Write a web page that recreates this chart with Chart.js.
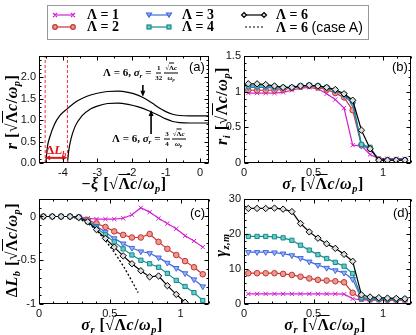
<!DOCTYPE html>
<html>
<head>
<meta charset="utf-8">
<script src="https://cdn.jsdelivr.net/npm/chart.js@4.4.0/dist/chart.umd.min.js"></script>
<style>
html, body { margin: 0; padding: 0; background: #fff; }
#wrap { position: relative; width: 416px; height: 335px; overflow: hidden; background: #fff; }
canvas { position: absolute; }
.m { position: absolute; font-family: "Liberation Serif", "DejaVu Serif", serif; font-weight: bold; white-space: nowrap; color: #000; line-height: 1; }
.m sub { font-size: 65%; vertical-align: -0.3em; line-height: 0; }
.ov { text-decoration: overline; }
.t { font-size: 16px; letter-spacing: 0.5px; transform: translate(-50%, -50%); }
.ty { font-size: 16px; letter-spacing: 0.5px; transform: translate(-50%, -50%) rotate(-90deg); }
.lab { position: absolute; font-family: "Liberation Sans", Arial, sans-serif; font-size: 13px; color: #000; line-height: 1; }
.lg { font-size: 14px; line-height: 16px; }
.lg span.s { font-family: "Liberation Sans", Arial, sans-serif; font-weight: normal; }
.fr { display: inline-flex; flex-direction: column; align-items: center; vertical-align: middle; font-size: 7px; line-height: 1; margin: 0 1px; }
.fr .nu { border-bottom: 0.8px solid #000; padding: 0 1px 1px; }
.fr .de { padding-top: 1px; }
.an { font-size: 11px; transform: translateY(-50%); }
</style>
</head>
<body>
<div id="wrap">
  <canvas id="chartA" width="216" height="150" style="left:0;top:44px"></canvas>
  <canvas id="chartB" width="212" height="150" style="left:204px;top:44px"></canvas>
  <canvas id="chartC" width="216" height="147" style="left:0;top:188px"></canvas>
  <canvas id="chartD" width="212" height="147" style="left:204px;top:188px"></canvas>

  <!-- legend -->
  <div style="position:absolute;left:47px;top:5px;width:320px;height:33px;border:1px solid #999;"></div>
  <svg width="416" height="45" style="position:absolute;left:0;top:0">
    <g stroke="#d21ed2" stroke-width="1.2" fill="none">
      <line x1="54" y1="15" x2="74" y2="15"/>
      <path d="M53 13 l4 4 M57 13 l-4 4 M71 13 l4 4 M75 13 l-4 4"/>
    </g>
    <g stroke="#c83232" stroke-width="1.2" fill="#e89a90">
      <line x1="54" y1="27" x2="74" y2="27"/>
      <circle cx="55" cy="27" r="2.3"/><circle cx="73" cy="27" r="2.3"/>
    </g>
    <g stroke="#4169e1" stroke-width="1.2" fill="#9db2f0">
      <line x1="148" y1="15" x2="170" y2="15"/>
      <path d="M146.5 13 h5 l-2.5 4 z M166.5 13 h5 l-2.5 4 z"/>
    </g>
    <g stroke="#108c8c" stroke-width="1.2" fill="#70c8c8">
      <line x1="148" y1="27" x2="170" y2="27"/>
      <rect x="147" y="25" width="4" height="4"/><rect x="167" y="25" width="4" height="4"/>
    </g>
    <g stroke="#000" stroke-width="1.2" fill="#ddd">
      <line x1="243" y1="15" x2="265" y2="15"/>
      <path d="M244 12.5 l2.5 2.5 l-2.5 2.5 l-2.5 -2.5 z M264 12.5 l2.5 2.5 l-2.5 2.5 l-2.5 -2.5 z"/>
    </g>
    <line x1="245" y1="27" x2="264" y2="27" stroke="#000" stroke-width="1.2" stroke-dasharray="2,2"/>
  </svg>
  <div class="m lg" style="left:87px;top:7px">Λ = 1</div>
  <div class="m lg" style="left:87px;top:19px">Λ = 2</div>
  <div class="m lg" style="left:182px;top:7px">Λ = 3</div>
  <div class="m lg" style="left:182px;top:19px">Λ = 4</div>
  <div class="m lg" style="left:276px;top:7px">Λ = 6</div>
  <div class="m lg" style="left:276px;top:19px">Λ = 6 <span class="s">(case A)</span></div>

  <!-- axis titles -->
  <div class="m t" style="left:124px;top:184px">−<i>ξ</i> [√<span class="ov">Λ</span><i>c</i>/<i>ω<sub>p</sub></i>]</div>
  <div class="m ty" style="left:12px;top:112px"><i>r</i> [√<span class="ov">Λ</span><i>c</i>/<i>ω<sub>p</sub></i>]</div>
  <div class="m t" style="left:323px;top:184px"><i>σ<sub>r</sub></i> [√<span class="ov">Λ</span><i>c</i>/<i>ω<sub>p</sub></i>]</div>
  <div class="m ty" style="left:222px;top:106px"><i>r<sub>i</sub></i> [√<span class="ov">Λ</span><i>c</i>/<i>ω<sub>p</sub></i>]</div>
  <div class="m t" style="left:122px;top:325px"><i>σ<sub>r</sub></i> [√<span class="ov">Λ</span><i>c</i>/<i>ω<sub>p</sub></i>]</div>
  <div class="m ty" style="left:12px;top:250px">Δ<i>L<sub>b</sub></i> [√<span class="ov">Λ</span><i>c</i>/<i>ω<sub>p</sub></i>]</div>
  <div class="m t" style="left:325px;top:325px"><i>σ<sub>r</sub></i> [√<span class="ov">Λ</span><i>c</i>/<i>ω<sub>p</sub></i>]</div>
  <div class="m ty" style="left:221px;top:245px"><i>γ<sub>z,m</sub></i></div>

  <!-- panel labels -->
  <div class="lab" style="left:189px;top:60px">(a)</div>
  <div class="lab" style="left:392px;top:60px">(b)</div>
  <div class="lab" style="left:190px;top:206px">(c)</div>
  <div class="lab" style="left:393px;top:206px">(d)</div>

  <!-- annotations in (a) -->
  <div class="m an" style="left:103px;top:73px">Λ = 6, <i>σ<sub>r</sub></i> = <span class="fr"><span class="nu">1</span><span class="de">32</span></span><span class="fr"><span class="nu">√<span class="ov">Λ</span><i>c</i></span><span class="de"><i>ω<sub>p</sub></i></span></span></div>
  <div class="m an" style="left:112px;top:139px">Λ = 6, <i>σ<sub>r</sub></i> = <span class="fr"><span class="nu">3</span><span class="de">4</span></span><span class="fr"><span class="nu">√<span class="ov">Λ</span><i>c</i></span><span class="de"><i>ω<sub>p</sub></i></span></span></div>
  <div class="m" style="left:46px;top:143px;font-size:13px;color:#e01818">Δ<i>L<sub>b</sub></i></div>
</div>

<script>
// ---- panel (a): bubble radius r versus -xi, Lambda = 6
var xiOuter = [-4.5, -4.46, -4.38, -4.25, -4.1, -3.87, -3.6, -3.3, -3.0, -2.7, -2.4, -2.1, -1.8, -1.6, -1.4, -1.2, -1.0, -0.8, -0.6, -0.3, 0.26];
var rOuter  = [0, 0.35, 0.62, 0.9, 1.1, 1.27, 1.44, 1.56, 1.63, 1.67, 1.68, 1.65, 1.58, 1.5, 1.4, 1.29, 1.2, 1.14, 1.11, 1.1, 1.1];
var xiInner = [-3.87, -3.83, -3.77, -3.65, -3.45, -3.2, -3.0, -2.7, -2.4, -2.1, -1.8, -1.5, -1.2, -1.0, -0.8, -0.6, -0.3, 0.26];
var rInner  = [0, 0.3, 0.55, 0.85, 1.1, 1.26, 1.33, 1.39, 1.4, 1.37, 1.31, 1.22, 1.11, 1.03, 0.97, 0.945, 0.935, 0.935];
var dLStart = -4.52;
var dLEnd = -3.87;
var xiTicks = [-4, -3, -2, -1, 0];
var rTicks = [0, 0.5, 1, 1.5, 2];

// ---- panels (b), (c), (d): sigma_r scan
var sigmaR = [0.031, 0.094, 0.156, 0.219, 0.281, 0.344, 0.406, 0.469, 0.531, 0.594, 0.656, 0.719, 0.781, 0.844, 0.906, 0.969, 1.031, 1.094, 1.156];
var sigmaTicks = [0, 0.5, 1];

// (b) r_i
var rI1 = [0.98, 0.98, 0.98, 0.98, 0.99, 1.02, 1.05, 1.06, 1.04, 0.97, 0.89, 0.77, 0.25, 0.24, 0.12, 0.06, 0.06, 0.06, 0.06];
var rI2 = [1.02, 1.02, 1.02, 1.02, 1.03, 1.05, 1.07, 1.08, 1.06, 1.03, 0.98, 0.92, 0.74, 0.25, 0.2, 0.05, 0.04, 0.04, 0.04];
var rI3 = [1.06, 1.06, 1.06, 1.05, 1.05, 1.06, 1.08, 1.09, 1.08, 1.05, 1.01, 0.95, 0.83, 0.24, 0.2, 0.04, 0.04, 0.04, 0.04];
var rI4 = [1.08, 1.08, 1.08, 1.07, 1.06, 1.06, 1.08, 1.09, 1.08, 1.06, 1.02, 0.96, 0.86, 0.26, 0.22, 0.04, 0.04, 0.04, 0.04];
var rI6 = [1.11, 1.11, 1.1, 1.08, 1.06, 1.06, 1.08, 1.09, 1.08, 1.06, 1.03, 0.97, 0.88, 0.46, 0.2, 0.04, 0.04, 0.04, 0.04];
var rITicks = [0, 0.5, 1, 1.5];

// (c) Delta L_b
var dL1 = [0, 0, 0, 0, 0, -0.02, -0.03, -0.03, -0.03, -0.02, 0.02, 0.1, 0.05, -0.02, -0.08, -0.14, -0.22, -0.28, -0.35];
var dL2 = [0, 0, 0, 0, -0.01, -0.04, -0.08, -0.12, -0.17, -0.21, -0.24, -0.24, -0.2, -0.29, -0.37, -0.44, -0.51, -0.58, -0.66];
var dL3 = [0, 0, 0, 0, -0.01, -0.05, -0.11, -0.18, -0.25, -0.31, -0.36, -0.4, -0.42, -0.47, -0.53, -0.59, -0.65, -0.72, -0.8];
var dL4 = [0, 0, 0, 0, -0.01, -0.06, -0.13, -0.21, -0.29, -0.37, -0.44, -0.5, -0.54, -0.58, -0.65, -0.73, -0.8, -0.87, -0.96];
var dL6 = [0, 0, 0, 0, -0.01, -0.06, -0.15, -0.25, -0.35, -0.45, -0.54, -0.62, -0.69, -0.68, -0.79, -0.89, -0.98, -1.07, -1.16];
var sigmaCaseA = [0.22, 0.3, 0.4, 0.5, 0.6, 0.7];
var dLCaseA = [0, -0.04, -0.15, -0.34, -0.58, -0.87];
var dLTicks = [-1, -0.5, 0];

// (d) gamma_{z,m}
var g1 = [2.9, 2.9, 2.9, 2.9, 2.9, 2.9, 2.9, 2.9, 2.9, 2.9, 2.9, 2.8, 1.5, 1.2, 1.1, 1.1, 1.1, 1.1, 1.1];
var g2 = [8.8, 8.8, 8.8, 8.8, 8.6, 8.3, 7.8, 7.3, 6.9, 6.7, 6.5, 6.2, 3.2, 1.5, 1.3, 1.3, 1.2, 1.2, 1.2];
var g3 = [14.8, 14.8, 14.8, 14.7, 14.4, 13.9, 13.1, 12.1, 11.1, 10.3, 9.6, 8.9, 7.1, 1.5, 1.4, 1.4, 1.3, 1.3, 1.3];
var g4 = [19.3, 19.3, 19.3, 19.2, 18.9, 18.2, 16.8, 15.4, 14.1, 13.0, 11.9, 10.8, 8.7, 1.8, 1.6, 1.5, 1.4, 1.4, 1.4];
var g6 = [27.3, 27.3, 27.3, 27.4, 27.1, 26.4, 23.0, 20.6, 18.8, 17.2, 15.9, 14.2, 12.2, 2.6, 2.0, 1.8, 1.7, 1.6, 1.5];
var gTicks = [0, 10, 20, 30];

// annotation anchors in (a), data units
var dLArrowY = 0.12;
var arrowUpper = { x: -1.67, from: 1.82, to: 1.55 };
var arrowLower = { x: -1.43, from: 0.68, to: 1.24 };

Chart.defaults.font.family = '"Liberation Sans", Arial, sans-serif';
Chart.defaults.font.size = 11;
Chart.defaults.color = '#000';

var styles = {
    1: { color: '#d21ed2', fill: '#d21ed2', pointStyle: 'crossRot', radius: 3, rot: 0, order: 5 },
    2: { color: '#c83232', fill: '#e89a90', pointStyle: 'circle', radius: 2.8, rot: 0, order: 4 },
    3: { color: '#4169e1', fill: '#9db2f0', pointStyle: 'triangle', radius: 3.2, rot: 180, order: 3 },
    4: { color: '#108c8c', fill: '#70c8c8', pointStyle: 'rect', radius: 3, rot: 0, order: 2 },
    6: { color: '#000000', fill: '#dddddd', pointStyle: 'rectRot', radius: 3.2, rot: 0, order: 1 }
};

function pts(xs, ys) {
    return xs.map(function (x, i) { return { x: x, y: ys[i] }; });
}

function series(lambda, ys) {
    var s = styles[lambda];
    return {
        label: 'Λ = ' + lambda,
        data: pts(sigmaR, ys),
        borderColor: s.color,
        backgroundColor: s.fill,
        pointStyle: s.pointStyle,
        pointRadius: s.radius,
        pointRotation: s.rot,
        pointBorderWidth: 1,
        borderWidth: 1.2,
        order: s.order
    };
}

function onStep(step) {
    return function (v) { return Math.abs(v / step - Math.round(v / step)) < 1e-6; };
}

// axis with a fixed list of labelled ticks
function axis(min, max, tickVals, fmt) {
    return {
        type: 'linear', min: min, max: max,
        grid: { display: false, drawTicks: false },
        border: { display: false },
        ticks: {
            autoSkip: false, includeBounds: false, maxRotation: 0, padding: 3, color: '#111',
            callback: fmt || function (v) { return String(v); }
        },
        afterBuildTicks: function (s) { s.ticks = tickVals.map(function (v) { return { value: v }; }); }
    };
}

// full frame with inward major/minor ticks
var frame = {
    id: 'frame',
    afterDraw: function (chart, args, o) {
        var ctx = chart.ctx, a = chart.chartArea, x = chart.scales.x, y = chart.scales.y;
        var L = Math.round(a.left) + 0.5, R = Math.round(a.right) - 0.5;
        var T = Math.round(a.top) + 0.5, B = Math.round(a.bottom) - 0.5;
        ctx.save();
        ctx.strokeStyle = '#000';
        ctx.lineWidth = 1;
        ctx.strokeRect(L, T, R - L, B - T);
        ctx.beginPath();
        var i, v, p, len;
        var n0 = Math.ceil(x.min / o.xMinor - 1e-6), n1 = Math.floor(x.max / o.xMinor + 1e-6);
        for (i = n0; i <= n1; i++) {
            v = i * o.xMinor;
            p = Math.round(x.getPixelForValue(v)) + 0.5;
            len = onStep(o.xMajor)(v) ? 4 : 2;
            ctx.moveTo(p, B); ctx.lineTo(p, B - len);
            ctx.moveTo(p, T); ctx.lineTo(p, T + len);
        }
        n0 = Math.ceil(y.min / o.yMinor - 1e-6); n1 = Math.floor(y.max / o.yMinor + 1e-6);
        for (i = n0; i <= n1; i++) {
            v = i * o.yMinor;
            p = Math.round(y.getPixelForValue(v)) + 0.5;
            len = onStep(o.yMajor)(v) ? 4 : 2;
            ctx.moveTo(L, p); ctx.lineTo(L + len, p);
            ctx.moveTo(R, p); ctx.lineTo(R - len, p);
        }
        ctx.stroke();
        ctx.restore();
    }
};

function head(ctx, tx, ty, dx, dy, len, half) {
    ctx.beginPath();
    ctx.moveTo(tx, ty);
    ctx.lineTo(tx - dx * len - dy * half, ty - dy * len + dx * half);
    ctx.lineTo(tx - dx * len + dy * half, ty - dy * len - dx * half);
    ctx.closePath();
    ctx.fill();
}

var arrowsA = {
    id: 'arrowsA',
    afterDatasetsDraw: function (chart) {
        var ctx = chart.ctx, x = chart.scales.x, y = chart.scales.y;
        ctx.save();
        // Delta L_b double arrow
        var yy = y.getPixelForValue(dLArrowY);
        var x1 = x.getPixelForValue(dLStart), x2 = x.getPixelForValue(dLEnd);
        ctx.strokeStyle = ctx.fillStyle = '#e01818';
        ctx.lineWidth = 2;
        ctx.beginPath(); ctx.moveTo(x1 + 4, yy); ctx.lineTo(x2 - 4, yy); ctx.stroke();
        head(ctx, x1, yy, -1, 0, 5, 2.5);
        head(ctx, x2, yy, 1, 0, 5, 2.5);
        // black arrows
        ctx.strokeStyle = ctx.fillStyle = '#000';
        ctx.lineWidth = 1.6;
        [arrowUpper, arrowLower].forEach(function (ar) {
            var px = x.getPixelForValue(ar.x), p0 = y.getPixelForValue(ar.from), p1 = y.getPixelForValue(ar.to);
            var dir = p1 > p0 ? 1 : -1;
            ctx.beginPath(); ctx.moveTo(px, p0); ctx.lineTo(px, p1 - dir * 4); ctx.stroke();
            head(ctx, px, p1, 0, dir, 6, 2.5);
        });
        ctx.restore();
    }
};

function make(id, datasets, scales, pad, xH, yW, ticksOpt, extra) {
    scales.x.afterFit = function (s) { s.height = xH; };
    scales.y.afterFit = function (s) { s.width = yW; };
    return new Chart(document.getElementById(id), {
        type: 'line',
        data: { datasets: datasets },
        options: {
            responsive: false,
            animation: false,
            layout: { padding: pad },
            plugins: { legend: { display: false }, tooltip: { enabled: false }, frame: ticksOpt },
            scales: scales
        },
        plugins: [frame].concat(extra || [])
    });
}

// (a) red dashed guides drawn above the curves
make('chartA', [
    { data: pts(xiOuter, rOuter), borderColor: '#000', borderWidth: 1.2, pointRadius: 0, cubicInterpolationMode: 'monotone', order: 2 },
    { data: pts(xiInner, rInner), borderColor: '#000', borderWidth: 1.2, pointRadius: 0, cubicInterpolationMode: 'monotone', order: 2 },
    { data: pts([dLStart, dLStart], [0, 2.5]), borderColor: '#ff2a2a', borderWidth: 1, borderDash: [3, 2], pointRadius: 0, order: 1 },
    { data: pts([dLEnd, dLEnd], [0, 2.5]), borderColor: '#ff2a2a', borderWidth: 1, borderDash: [3, 2], pointRadius: 0, order: 1 }
], {
    x: axis(-4.7, 0.26, xiTicks),
    y: axis(0, 2.5, rTicks, function (v) { return v.toFixed(1); })
}, { top: 12, right: 7, left: 0, bottom: 0 }, 31, 39, { xMajor: 1, xMinor: 0.5, yMajor: 0.5, yMinor: 0.1 }, [arrowsA]);

// (b)
make('chartB', [
    series(1, rI1), series(2, rI2), series(3, rI3), series(4, rI4), series(6, rI6)
], {
    x: axis(0, 1.2, sigmaTicks),
    y: axis(0, 1.5, rITicks)
}, { top: 12, right: 3, left: 0, bottom: 0 }, 31, 40, { xMajor: 0.5, xMinor: 0.1, yMajor: 0.5, yMinor: 0.1 });

// (c)
var caseA = { data: pts(sigmaCaseA, dLCaseA), borderColor: '#000', borderWidth: 1.3, borderDash: [2, 2], pointRadius: 0, cubicInterpolationMode: 'monotone', order: 6 };
make('chartC', [
    series(1, dL1), series(2, dL2), series(3, dL3), series(4, dL4), series(6, dL6), caseA
], {
    x: axis(0, 1.2, sigmaTicks),
    y: axis(-1, 0.2, dLTicks)
}, { top: 11, right: 7, left: 0, bottom: 0 }, 31, 39, { xMajor: 0.5, xMinor: 0.1, yMajor: 0.5, yMinor: 0.1 });

// (d)
make('chartD', [
    series(1, g1), series(2, g2), series(3, g3), series(4, g4), series(6, g6)
], {
    x: axis(0, 1.2, sigmaTicks),
    y: axis(0, 30, gTicks)
}, { top: 11, right: 3, left: 0, bottom: 0 }, 31, 40, { xMajor: 0.5, xMinor: 0.1, yMajor: 10, yMinor: 2 });
</script>
</body>
</html>
